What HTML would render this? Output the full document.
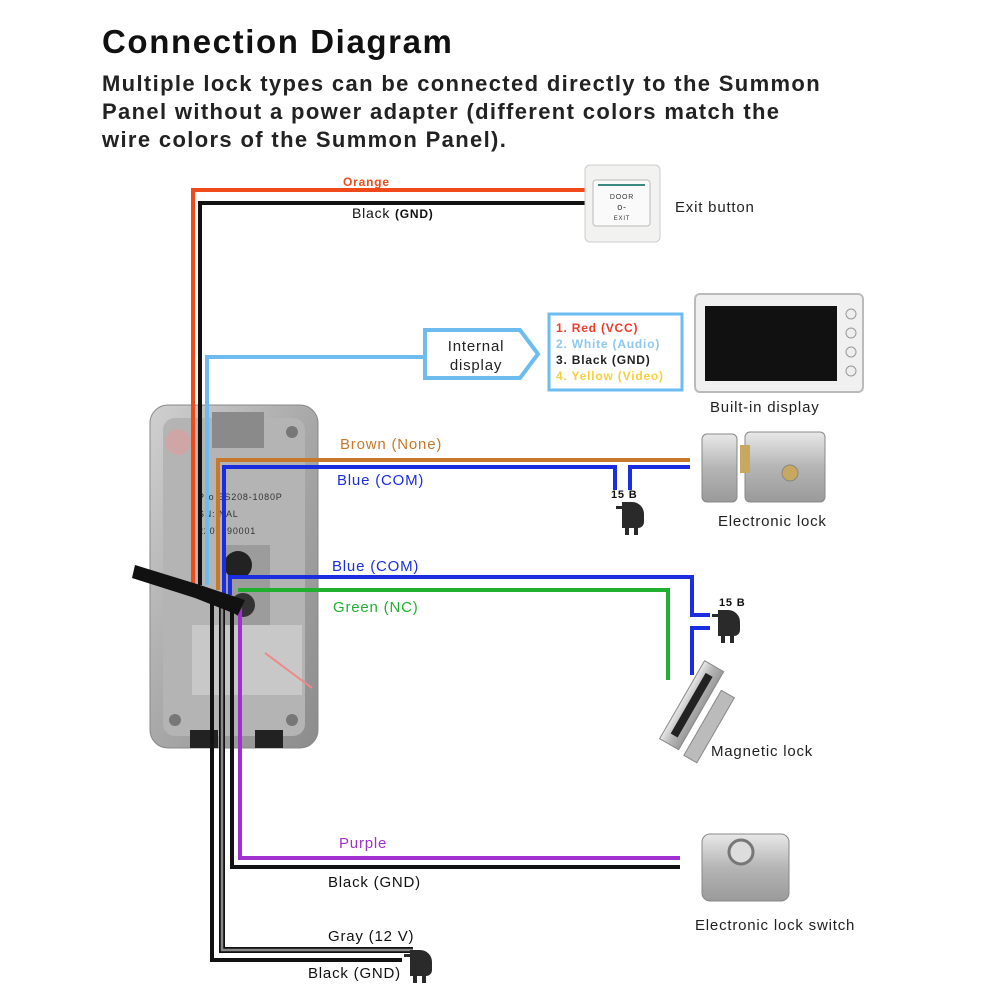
<!DOCTYPE html>
<html><head><meta charset="utf-8"><style>
html,body{margin:0;padding:0;background:#fff;}
svg{display:block;font-family:"Liberation Sans",sans-serif;letter-spacing:0.8px;}
</style></head><body>
<svg width="1000" height="1000" viewBox="0 0 1000 1000" xmlns="http://www.w3.org/2000/svg">
<defs>
<linearGradient id="metal" x1="0" y1="0" x2="1" y2="1"><stop offset="0" stop-color="#d0d0d0"/><stop offset="0.5" stop-color="#a8a8a8"/><stop offset="1" stop-color="#8c8c8c"/></linearGradient>
<linearGradient id="steel" x1="0" y1="0" x2="0" y2="1"><stop offset="0" stop-color="#e8e8e8"/><stop offset="0.5" stop-color="#b5b5b5"/><stop offset="1" stop-color="#9a9a9a"/></linearGradient>
<g id="plug"><path d="M0,0 h10 a12,12 0 0 1 12,12 v8 a6,6 0 0 1 -6,6 h-16 z" fill="#2a2a2a"/><rect x="3" y="24" width="4" height="9" fill="#2a2a2a"/><rect x="12" y="24" width="4" height="9" fill="#2a2a2a"/><rect x="-6" y="4" width="7" height="3" fill="#2a2a2a"/></g>
</defs>
<text x="102" y="53" font-size="33" font-weight="bold" fill="#111" style="letter-spacing:1.6px">Connection Diagram</text>
<text font-size="22" font-weight="bold" fill="#222" style="letter-spacing:1.35px"><tspan x="102" y="91">Multiple lock types can be connected directly to the Summon</tspan><tspan x="102" y="119">Panel without a power adapter (different colors match the</tspan><tspan x="102" y="147">wire colors of the Summon Panel).</tspan></text>

<!-- panel -->
<rect x="150" y="405" width="168" height="343" rx="18" fill="url(#metal)" stroke="#888"/>
<rect x="163" y="418" width="142" height="318" rx="12" fill="#b4b4b4"/>
<rect x="212" y="412" width="52" height="36" fill="#8a8a8a"/>
<circle cx="178" cy="442" r="13" fill="#d9a0a0" opacity="0.7"/>
<circle cx="292" cy="432" r="6" fill="#777"/><circle cx="292" cy="720" r="6" fill="#777"/><circle cx="175" cy="720" r="6" fill="#777"/>
<rect x="225" y="545" width="45" height="80" fill="#9c9c9c"/>
<circle cx="238" cy="565" r="14" fill="#222"/><circle cx="243" cy="605" r="12" fill="#333"/>
<rect x="192" y="625" width="110" height="70" fill="#c8c8c8"/>
<rect x="190" y="730" width="28" height="18" fill="#222"/><rect x="255" y="730" width="28" height="18" fill="#222"/>
<line x1="265" y1="653" x2="312" y2="688" stroke="#e88" stroke-width="2"/>
<text font-size="9" fill="#333"><tspan x="198" y="500">Pro ES208-1080P</tspan><tspan x="198" y="517">SN: NAL</tspan><tspan x="198" y="534">2207190001</tspan></text>

<g fill="none" stroke-width="4">
<polyline points="585,190 193,190 193,585" stroke="#f04a1a"/>
<polyline points="585,203 200,203 200,585" stroke="#111"/>
<polyline points="427,357 207,357 207,585" stroke="#6cbcf0"/>
<polyline points="690,460 218,460 218,590" stroke="#c8782a"/>
<polyline points="615,490 615,467 224,467 224,595" stroke="#1a2ee0"/>
<polyline points="630,490 630,467 690,467" stroke="#1a2ee0"/>
<polyline points="710,615 692,615 692,577 230,577 230,595" stroke="#1a2ee0"/>
<polyline points="710,628 692,628 692,675" stroke="#1a2ee0"/>
<polyline points="668,680 668,590 238,590" stroke="#1fb030"/>
<polyline points="680,858 240,858 240,600" stroke="#a030d0"/>
<polyline points="680,867 232,867 232,600" stroke="#111"/>
<polyline points="413,950 222,950 222,600" stroke="#111" stroke-width="6"/>
<polyline points="413,950 222,950 222,600" stroke="#888" stroke-width="2.5"/>
<polyline points="402,960 212,960 212,600" stroke="#111"/>
</g>
<path d="M135,565 L200,585 L245,600 L238,615 L195,598 L132,578 z" fill="#111"/>

<!-- labels -->
<text x="343" y="186" font-size="12" font-weight="bold" fill="#f04a1a">Orange</text>
<text x="352" y="218" font-size="14" fill="#111">Black <tspan font-weight="bold" font-size="12">(GND)</tspan></text>
<text x="340" y="449" font-size="15" fill="#c8782a">Brown (None)</text>
<text x="337" y="485" font-size="15" fill="#1a2ee0">Blue (COM)</text>
<text x="332" y="571" font-size="15" fill="#1a2ee0">Blue (COM)</text>
<text x="333" y="612" font-size="15" fill="#1fb030">Green (NC)</text>
<text x="339" y="848" font-size="15" fill="#a030d0">Purple</text>
<text x="328" y="887" font-size="15" fill="#111">Black (GND)</text>
<text x="328" y="941" font-size="15" fill="#111">Gray (12 V)</text>
<text x="308" y="978" font-size="15" fill="#111">Black (GND)</text>
<text x="611" y="498" font-size="11" font-weight="bold" fill="#111">15 B</text>
<text x="719" y="606" font-size="11" font-weight="bold" fill="#111">15 B</text>
<use href="#plug" x="622" y="502"/>
<use href="#plug" x="718" y="610"/>
<use href="#plug" x="410" y="950"/>

<!-- exit button -->
<rect x="585" y="165" width="75" height="77" rx="5" fill="#f2f2f0" stroke="#ccc"/>
<rect x="593" y="180" width="57" height="46" rx="3" fill="#fafafa" stroke="#bbb"/>
<rect x="598" y="184" width="47" height="2" fill="#3a8a80"/>
<text x="622" y="199" font-size="7" text-anchor="middle" fill="#333">DOOR</text>
<text x="622" y="210" font-size="9" text-anchor="middle" fill="#333">o-</text>
<text x="622" y="220" font-size="6" text-anchor="middle" fill="#333">EXIT</text>
<text x="675" y="212" font-size="15" fill="#222">Exit button</text>

<!-- internal display callout -->
<path d="M425,330 H520 L538,354 L520,378 H425 Z" fill="#fff" stroke="#6cbcf0" stroke-width="4"/>
<text x="476" y="351" font-size="15" text-anchor="middle" fill="#222">Internal</text>
<text x="476" y="370" font-size="15" text-anchor="middle" fill="#222">display</text>
<rect x="549" y="314" width="133" height="76" fill="#fff" stroke="#6cbcf0" stroke-width="3"/>
<text font-size="12" font-weight="bold"><tspan x="556" y="332" fill="#f03a2a">1. Red (VCC)</tspan><tspan x="556" y="348" fill="#8cc8f0">2. White (Audio)</tspan><tspan x="556" y="364" fill="#222">3. Black (GND)</tspan><tspan x="556" y="380" fill="#f5d040">4. Yellow (Video)</tspan></text>

<!-- monitor -->
<rect x="695" y="294" width="168" height="98" rx="5" fill="#f0f0f0" stroke="#bbb" stroke-width="2"/>
<rect x="705" y="306" width="132" height="75" fill="#111"/>
<g fill="#eee" stroke="#999"><circle cx="851" cy="314" r="5"/><circle cx="851" cy="333" r="5"/><circle cx="851" cy="352" r="5"/><circle cx="851" cy="371" r="5"/></g>
<text x="710" y="412" font-size="15" fill="#222">Built-in display</text>

<!-- electronic lock -->
<rect x="702" y="434" width="35" height="68" rx="5" fill="url(#steel)" stroke="#888"/>
<rect x="745" y="432" width="80" height="70" rx="5" fill="url(#steel)" stroke="#888"/>
<rect x="740" y="445" width="10" height="28" fill="#c8a860"/>
<circle cx="790" cy="473" r="8" fill="#c8a860" stroke="#888"/>
<text x="718" y="526" font-size="15" fill="#222">Electronic lock</text>

<!-- magnetic lock -->
<g transform="rotate(-60 690 710)"><rect x="650" y="698" width="90" height="22" fill="url(#steel)" stroke="#888"/><rect x="660" y="705" width="70" height="8" fill="#222"/></g>
<g transform="rotate(-60 710 730)"><rect x="675" y="720" width="75" height="15" fill="#bbb" stroke="#888"/></g>
<text x="711" y="756" font-size="15" fill="#222">Magnetic lock</text>

<!-- lock switch -->
<rect x="702" y="834" width="87" height="67" rx="8" fill="url(#steel)" stroke="#888"/>
<circle cx="741" cy="852" r="12" fill="#ddd" stroke="#777" stroke-width="3"/>
<text x="695" y="930" font-size="15" fill="#222">Electronic lock switch</text>
</svg>
</body></html>
